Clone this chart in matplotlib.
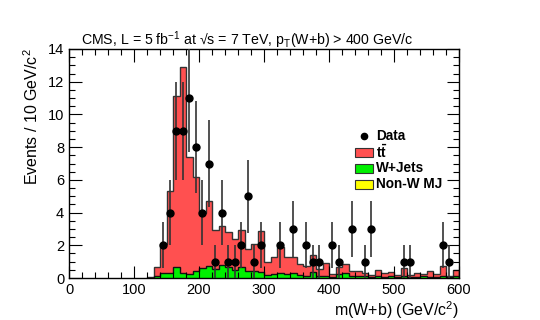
import numpy as np
import matplotlib
matplotlib.use("Agg")
import matplotlib.pyplot as plt
from matplotlib.patches import Rectangle
from matplotlib.lines import Line2D
from matplotlib.ticker import MultipleLocator

plt.rcParams['font.family'] = ['Liberation Sans', 'DejaVu Sans']
plt.rcParams['mathtext.fontset'] = 'custom'
plt.rcParams['mathtext.rm'] = 'Liberation Sans'
plt.rcParams['mathtext.it'] = 'Liberation Sans:italic'
plt.rcParams['mathtext.bf'] = 'Liberation Sans:bold'

# bin lower edges, 10 GeV wide, 120..590
bin_lo = [120, 130, 140, 150, 160, 170, 180, 190, 200, 210, 220, 230, 240, 250, 260, 270,
          280, 290, 300, 310, 320, 330, 340, 350, 360, 370, 380, 390, 400, 410, 420, 430,
          440, 450, 460, 470, 480, 490, 500, 510, 520, 530, 540, 550, 560, 570, 580, 590]

nonw_mj = [0, 0, 0, 0, 0, 0, 0, 0, 0, 0, 0, 0, 0, 0, 0, 0,
           0, 0, 0, 0, 0, 0, 0, 0, 0, 0, 0, 0, 0, 0, 0, 0,
           0, 0, 0, 0, 0, 0, 0, 0, 0, 0, 0, 0, 0, 0, 0, 0]

wjets = [0.0, 0.12, 0.3, 0.3, 0.65, 0.3, 0.25, 0.45, 0.6, 0.75, 0.55, 0.8, 0.65, 0.5, 0.7, 0.45,
         0.4, 0.35, 0.2, 0.25, 0.3, 0.25, 0.3, 0.2, 0.15, 0.35, 0.1, 0.15, 0.05, 0.25, 0.3, 0.15,
         0.15, 0.1, 0.05, 0.1, 0.05, 0.1, 0.05, 0.1, 0.05, 0.05, 0.1, 0.05, 0.05, 0.15, 0.05, 0.1]

ttbar = [0.08, 0.53, 1.77, 5.0, 10.45, 12.6, 7.15, 5.75, 3.37, 3.95, 2.4, 2.35, 2.19, 1.87, 2.24, 1.3,
         1.65, 2.51, 0.8, 1.03, 1.6, 1.02, 1.0, 0.66, 0.61, 1.04, 0.46, 0.75, 0.2, 0.45, 0.53, 0.28,
         0.29, 0.23, 0.11, 0.36, 0.28, 0.28, 0.15, 0.52, 0.13, 0.28, 0.12, 0.37, 0.2, 0.59, 0.1, 0.38]

data_x = [145, 155, 165, 175, 185, 195, 205, 215, 225, 235, 245, 255, 265, 275, 285, 295,
          325, 345, 365, 375, 385, 405, 415, 435, 455, 465, 515, 525, 575, 585]
data_n = [2, 4, 9, 9, 11, 8, 4, 7, 1, 4, 1, 1, 2, 5, 1, 2,
          2, 3, 2, 1, 1, 2, 1, 3, 1, 3, 1, 1, 2, 1]

RED = '#ff5050'
GREEN = '#00f000'
YELLOW = '#ffff00'
W, H = 540, 320


def fx(px):
    return px / W


def fy(py):
    return 1 - py / H


fig = plt.figure(figsize=(5.4, 3.2), dpi=100)
ax = fig.add_axes([fx(69), fy(278), fx(459) - fx(69), fy(49) - fy(278)])

edges = np.append(bin_lo, bin_lo[-1] + 10)
mj = np.array(nonw_mj, float)
wj = mj + np.array(wjets)
tot = wj + np.array(ttbar)

ax.stairs(tot, edges, fill=True, color=RED)
ax.stairs(tot, edges, color='#333333', lw=1)
ax.stairs(wj, edges, fill=True, color=GREEN)
ax.stairs(wj, edges, color='#111111', lw=1)
ax.stairs(mj, edges, fill=True, color=YELLOW)

n = np.array(data_n, float)
ax.errorbar(data_x, n, yerr=np.sqrt(n), fmt='o', color='black', ecolor='#333333',
            elinewidth=1.2, ms=5, capsize=0, zorder=5)

ax.set_xlim(0, 600)
ax.set_ylim(0, 14)
ax.xaxis.set_major_locator(MultipleLocator(100))
ax.xaxis.set_minor_locator(MultipleLocator(20))
ax.yaxis.set_major_locator(MultipleLocator(2))
ax.yaxis.set_minor_locator(MultipleLocator(0.5))
ax.tick_params(which='both', direction='in', top=True, right=True, labelsize=10.5, width=0.8)
ax.tick_params(which='major', length=9)
ax.tick_params(which='minor', length=4.5)
for s in ax.spines.values():
    s.set_linewidth(1)

fig.text(fx(459), fy(310), r'm(W+b) (GeV/c$^{2}$)', ha='right', va='center', fontsize=11.5)
fig.text(fx(32), fy(48), r'Events / 10 GeV/c$^{2}$', ha='center', va='top',
         rotation=90, fontsize=11.5)
fig.text(fx(81), fy(45),
         r'CMS, L = 5 fb$^{-1}$ at √s = 7 TeV, p$_{\mathrm{T}}$(W+b) > 400 GeV/c',
         ha='left', va='baseline', fontsize=10.2)

# legend
fig.add_artist(Line2D([fx(364)], [fy(136)], marker='o', color='black', ms=4.5, ls='none'))
rows = [(r'$\mathbf{t\bar{t}}$', RED, 152), ('W+Jets', GREEN, 168), ('Non-W MJ', YELLOW, 184)]
for label, col, py in rows:
    fig.add_artist(Rectangle((fx(355), fy(py + 4.5)), fx(373) - fx(355), 9 / H,
                             facecolor=col, edgecolor='#333333', lw=0.8,
                             transform=fig.transFigure))
fig.text(fx(376), fy(136), 'Data', ha='left', va='center', fontsize=9.8, fontweight='bold')
for label, col, py in rows:
    fig.text(fx(376), fy(py), label, ha='left', va='center', fontsize=9.8, fontweight='bold')

fig.savefig('out.png', dpi=100)
